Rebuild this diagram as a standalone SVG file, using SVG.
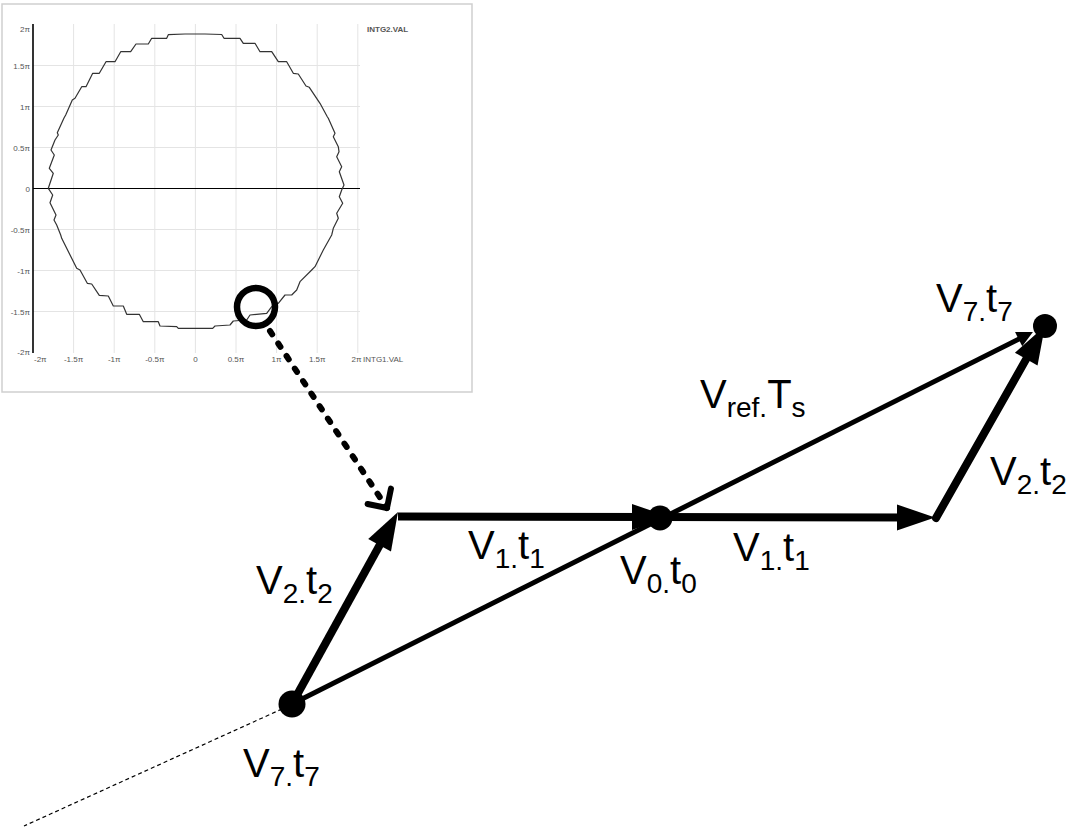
<svg xmlns="http://www.w3.org/2000/svg" width="1075" height="831" viewBox="0 0 1075 831">
<style>
.grid{stroke:#e4e4e4;stroke-width:1;fill:none}
.tick{font-family:"Liberation Sans",Arial,sans-serif;font-size:8px;fill:#555}
.tl{text-anchor:end}
.tc{text-anchor:middle}
.ser{font-family:"Liberation Sans",Arial,sans-serif;font-size:8px;fill:#555}
.lbl{font-family:"Liberation Sans",Arial,sans-serif;font-size:40px;fill:#000}
.sub{font-size:28px}
.thick{stroke:#000;stroke-width:8;fill:none}
.thin{stroke:#000;stroke-width:5;fill:none}
.dot{fill:#000}
</style>
<defs>
<marker id="ah" markerUnits="userSpaceOnUse" viewBox="0 -14 40 28" refX="18" refY="0" markerWidth="40" markerHeight="28" orient="auto" overflow="visible"><path d="M0,-13 L38,0 L0,13 z" fill="#000"/></marker>
<marker id="ahs" markerUnits="userSpaceOnUse" viewBox="0 -9 18 18" refX="8" refY="0" markerWidth="18" markerHeight="18" orient="auto" overflow="visible"><path d="M0,-8 L16,0 L0,8 z" fill="#000"/></marker>
<marker id="aho" markerUnits="userSpaceOnUse" viewBox="-20 -20 26 40" refX="0" refY="0" markerWidth="26" markerHeight="40" orient="auto" overflow="visible"><path d="M-14,-14 L0,0 L-14,14" fill="none" stroke="#000" stroke-width="6" stroke-linecap="round" stroke-linejoin="round"/></marker>
</defs>
<rect width="1075" height="831" fill="#fff"/>

<g id="inset">
<rect x="2" y="4" width="470" height="388" fill="#fff" stroke="#cfcfcf" stroke-width="1.5"/>
<g class="grid">
<path d="M73.6,24V353M114.2,24V353M154.8,24V353M195.4,24V353M236,24V353M276.6,24V353M317.2,24V353M357.8,24V353"/>
<path d="M33,65.5H360M33,106.5H360M33,147.5H360M33,229.5H360M33,270.5H360M33,311.5H360"/>
</g>
<path d="M33,188.5H360" stroke="#000" stroke-width="1"/>
<path d="M33,24V353" stroke="#000" stroke-width="1.6"/>
<g class="tick tl">
<text x="30" y="32">2π</text>
<text x="30" y="68.5">1.5π</text>
<text x="30" y="109.5">1π</text>
<text x="30" y="150.5">0.5π</text>
<text x="30" y="191.5">0</text>
<text x="30" y="232.5">-0.5π</text>
<text x="30" y="273.5">-1π</text>
<text x="30" y="314.5">-1.5π</text>
<text x="30" y="355">-2π</text>
</g>
<g class="tick tc">
<text x="34" y="361.5" text-anchor="start">-2π</text>
<text x="73.6" y="361.5">-1.5π</text>
<text x="114.2" y="361.5">-1π</text>
<text x="154.8" y="361.5">-0.5π</text>
<text x="195.4" y="361.5">0</text>
<text x="236" y="361.5">0.5π</text>
<text x="276.6" y="361.5">1π</text>
<text x="317.2" y="361.5">1.5π</text>
<text x="356.5" y="361.5">2π</text>
</g>
<text class="ser" x="363" y="361.5">INTG1.VAL</text>
<text class="ser" x="367" y="32" font-weight="bold">INTG2.VAL</text>
<polyline fill="none" stroke="#333" stroke-width="1.2" stroke-linejoin="round" points="48.3,188.3 53.3,173.3 49.3,168.3 54.3,155 51,150 55,140 58.3,135 57.3,132.7 64,118 65.7,115 72.3,100 75,98.3 81.7,86.7 86,86.7 92.7,73.3 99.3,73.3 106,61.7 115,61.7 120.7,51.7 130.7,51.7 136,44 148.3,44 151.7,38.3 166.7,38.3 168.3,34.7 185,34 205,34 221.7,34.5 224,38.3 240,38.3 243.3,43.3 255,43.3 260,51.7 271.7,51.7 278.3,61.7 286.7,61.7 293.3,73.3 298.3,74 306,86 309.3,87.3 320,103.3 327.3,116.7 328.3,118.3 335,133.3 333.3,136.7 338.3,146.7 339,151.7 336.7,156.7 341.7,166.7 339.3,171.7 344,185 341.7,190 339.3,196.7 342.7,203.3 336.7,213.3 338.3,218.3 333.3,228.3 331.7,235 323.3,250 315,266.7 311.7,270 300,281.7 296.7,290 291.7,295 285,295 278.3,303.3 271.7,306.7 266.7,313.3 250,315 246.7,320 233.3,321 230,325 215,326 212.7,328.3 178.3,328.3 176.7,326.7 160,326 158.3,321.7 143.3,321.7 139.3,314.3 126.7,314.3 123.3,306 113.3,306 108.3,296 99.3,295.3 91.7,284 87.3,283.3 80,270 76.7,268.3 61.7,238.3 60.7,235 56.7,225 54,220 56,215 50,202.7 52.7,195 48.3,188.3"/>
</g>

<g id="magnifier">
<circle cx="256" cy="307" r="19" fill="none" stroke="#000" stroke-width="6.5"/>
</g>

<g id="connectors">
<path d="M270,331 L387,508" fill="none" stroke="#000" stroke-width="6" stroke-linecap="round" stroke-dasharray="4 11" marker-end="url(#aho)"/>
<path d="M282,709 L24,826" fill="none" stroke="#000" stroke-width="1.2" stroke-dasharray="4 3"/>
<path class="thin" d="M292,704 L1025.8,335.6" marker-end="url(#ahs)"/>
<path class="thick" d="M292,704 L388.3,529.5" marker-end="url(#ah)"/>
<path class="thick" d="M398,516.5 L650,517" marker-end="url(#ah)"/>
<path class="thick" d="M660,517 L915,517.5" marker-end="url(#ah)"/>
<path class="thick" d="M936,518 L1035.1,343.4" stroke-linecap="round" marker-end="url(#ah)"/>
</g>

<g id="node-v7-start">
<circle class="dot" cx="292" cy="704" r="13.5"/>
<text class="lbl" x="243" y="777">V<tspan class="sub" dy="9">7.</tspan><tspan dy="-9">t</tspan><tspan class="sub" dy="9">7</tspan></text>
</g>
<g id="node-v0">
<circle class="dot" cx="660" cy="518" r="12.5"/>
<text class="lbl" x="620" y="584">V<tspan class="sub" dy="9">0.</tspan><tspan dy="-9">t</tspan><tspan class="sub" dy="9">0</tspan></text>
</g>
<g id="node-v7-end">
<circle class="dot" cx="1045" cy="326" r="12"/>
<text class="lbl" x="936" y="312">V<tspan class="sub" dy="9">7.</tspan><tspan dy="-9">t</tspan><tspan class="sub" dy="9">7</tspan></text>
</g>

<g id="edge-labels">
<text class="lbl" x="256" y="594">V<tspan class="sub" dy="9">2.</tspan><tspan dy="-9">t</tspan><tspan class="sub" dy="9">2</tspan></text>
<text class="lbl" x="468" y="559">V<tspan class="sub" dy="9">1.</tspan><tspan dy="-9">t</tspan><tspan class="sub" dy="9">1</tspan></text>
<text class="lbl" x="733" y="561">V<tspan class="sub" dy="9">1.</tspan><tspan dy="-9">t</tspan><tspan class="sub" dy="9">1</tspan></text>
<text class="lbl" x="700" y="408">V<tspan class="sub" dy="9">ref.</tspan><tspan dy="-9">T</tspan><tspan class="sub" dy="9">s</tspan></text>
<text class="lbl" x="990" y="485">V<tspan class="sub" dy="9">2.</tspan><tspan dy="-9">t</tspan><tspan class="sub" dy="9">2</tspan></text>
</g>
</svg>
